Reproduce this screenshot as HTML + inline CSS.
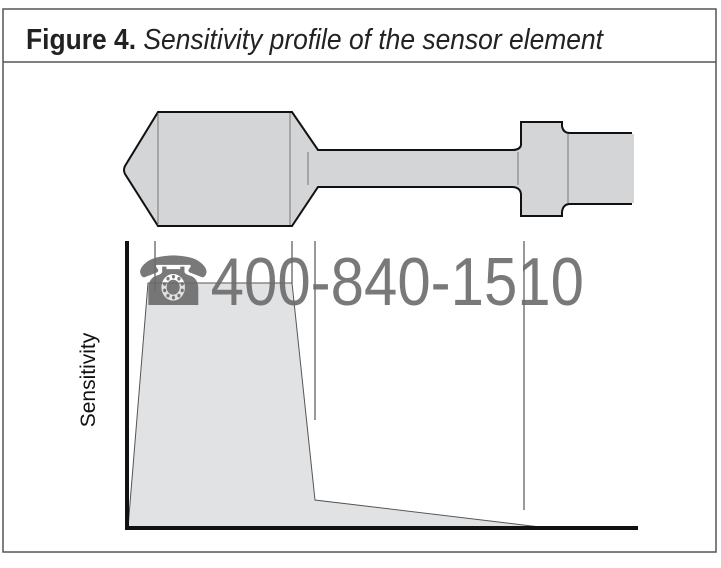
<!DOCTYPE html>
<html><head><style>
body{margin:0;background:#fff;width:721px;height:563px;overflow:hidden}
</style></head><body>
<svg width="721" height="563" xmlns="http://www.w3.org/2000/svg">
<rect x="3" y="9" width="713" height="543" fill="#fff" stroke="#555" stroke-width="1.5"/>
<line x1="3" y1="62" x2="716" y2="62" stroke="#555" stroke-width="1.5"/>
<text x="26" y="49" textLength="577" lengthAdjust="spacingAndGlyphs" font-family="Liberation Sans, sans-serif" font-size="29" fill="#222"><tspan font-weight="bold">Figure 4.</tspan><tspan font-style="italic"> Sensitivity profile of the sensor element</tspan></text>
<g stroke="#111" stroke-width="2" fill="#d4d5d7">
<path d="M632,133 L570,133 Q563,133 562,126 L562,122 L521,122 L521,145 Q520,150 512,150 L318,150 L292,112 L158,112 L125,166 Q123,170 125,174 L158,226 L292,226 L318,187 L512,187 Q520,187 521,194 L521,216 L562,216 L562,212 Q563,204 570,204 L632,204" />
</g>
<rect x="630" y="134" width="4" height="69" fill="#d4d5d7"/>
<g stroke="#777" stroke-width="1">
<line x1="158" y1="113" x2="158" y2="225"/><line x1="290" y1="113" x2="290" y2="225"/>
<line x1="308" y1="152" x2="308" y2="185"/><line x1="518" y1="152" x2="518" y2="185"/>
<line x1="568" y1="134" x2="568" y2="203"/>
</g>
<polygon points="128,528 148,283 292,283 315,500 540,527" fill="#e1e2e3" stroke="#555" stroke-width="1"/>
<g stroke="#333" stroke-width="1">
<line x1="155" y1="241" x2="155" y2="292"/><line x1="292" y1="241" x2="292" y2="283"/>
<line x1="315" y1="241" x2="315" y2="420"/><line x1="524" y1="241" x2="524" y2="510"/>
</g>
<line x1="127" y1="241" x2="127" y2="530" stroke="#111" stroke-width="4"/>
<line x1="125" y1="528" x2="638" y2="528" stroke="#111" stroke-width="4"/>
<text transform="translate(95,380) rotate(-90)" text-anchor="middle" font-family="Liberation Sans, sans-serif" font-size="21" fill="#111">Sensitivity</text>
<text x="136" y="305" textLength="448" lengthAdjust="spacingAndGlyphs" font-family="Liberation Sans, sans-serif" font-size="68" fill="#6a6a6a" fill-opacity="0.9">☎400-840-1510</text>
</svg>
</body></html>
